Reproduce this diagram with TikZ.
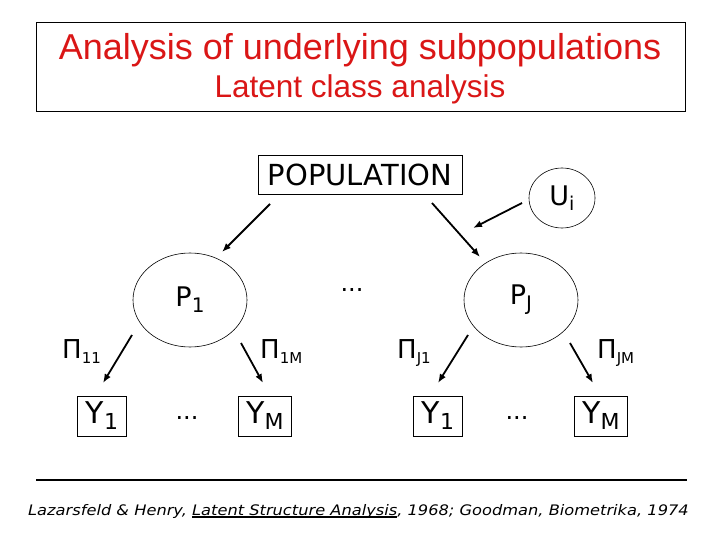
\documentclass[tikz,border=0pt]{standalone}
\usepackage{fontspec}
\setmainfont{DejaVu Sans}[ItalicFont={DejaVu Sans Oblique}]
\newfontfamily\arialfont{Liberation Sans}
\newfontfamily\citefont{DejaVu Sans Oblique}[FakeStretch=1.12]
\usepackage{tikz}
\usetikzlibrary{shapes.geometric}
\usetikzlibrary{positioning}
\usetikzlibrary{arrows.meta}

\definecolor{titlered}{RGB}{218,22,22}

% lowered text: shift, size, text
\newcommand{\dn}[3]{\raisebox{-#1pt}{\fontsize{#2}{#2}\selectfont #3}}
\newcommand{\uln}[1]{\setbox0\hbox{#1}\rlap{\rule[-3pt]{\wd0}{1.6pt}}\box0}

\tikzset{
  heading/.style={font=\arialfont\fontsize{36}{40}\selectfont, text=titlered, anchor=base, inner sep=0pt},
  subheading/.style={font=\arialfont\fontsize{31.5}{36}\selectfont, text=titlered, anchor=base, inner sep=0pt},
  classnode/.style={draw, ellipse, line width=0.6pt, minimum width=114pt, minimum height=94pt, font=\fontsize{27}{30}\selectfont},
  itembox/.style={draw, line width=0.8pt, minimum height=40pt, minimum width=48pt, inner xsep=8pt, font=\fontsize{30}{32}\selectfont},
  prob/.style={anchor=base west, inner sep=0pt, font=\fontsize{26}{28}\selectfont},
  gap/.style={font=\fontsize{24}{26}\selectfont, inner sep=0pt},
  link/.style={black, line width=1.8pt, -{Latex[length=9pt,width=7pt]}},
}

\begin{document}
\begin{tikzpicture}[x=1pt, y=-1pt]
      \useasboundingbox (0,0) rectangle (720,540);

      % title
      \node[draw, line width=0.8pt, minimum width=649pt, minimum height=89pt] (titlebox) at (360.5,66.5) {};
      \node[heading] (head) at (360,60) {Analysis of underlying subpopulations};
      \node[subheading] (subhead) at (360,98) {Latent class analysis};

      % population and classes
      \node[draw, line width=0.8pt, minimum width=204pt, minimum height=39pt, font=\fontsize{29}{32}\selectfont] (pop) at (360,174.5) {POPULATION};
      \node[draw, ellipse, line width=0.6pt, minimum width=66pt, minimum height=60pt, inner sep=0pt, font=\fontsize{27}{30}\selectfont] (ui) at (562,198) {U\dn{5}{19}{i}};

      \node[classnode] (p1) at (190,300) {P\dn{6}{20}{1}};
      \node[classnode] (pj) at (521,300) {P\dn{6}{20}{J}};
      \node[gap] (dotsmid) at (352,290) {...};

      \draw[link] ([shift={(-90,29.5)}]pop.center) -- ([shift={(32,-48)}]p1.center);
      \draw[link] ([shift={(72,28.5)}]pop.center) -- ([shift={(-41,-43)}]pj.center);
      \draw[link] ([shift={(-40,5)}]ui.center) -- ([shift={(-48,-72)}]pj.center);

      % items
      \node[itembox] (y1a) at (102,416) {Y\dn{6}{22}{1}};
      \node[gap] (dotsa) at (187,418) {...};
      \node[itembox] (yma) at (265,416) {Y\dn{6}{22}{M}};
      \node[itembox] (y1b) at (438,416) {Y\dn{6}{22}{1}};
      \node[gap] (dotsb) at (517,418) {...};
      \node[itembox] (ymb) at (601,416) {Y\dn{6}{22}{M}};

      \node[prob] (pi11) at (62,358) {Π\dn{5}{15}{11}};
      \node[prob] (pi1m) at (260,358) {Π\dn{5}{15}{1M}};
      \node[prob] (pij1) at (397,358) {Π\dn{5}{15}{J1}};
      \node[prob] (pijm) at (597,358) {Π\dn{5}{15}{JM}};

      \draw[link] ([shift={(-58,35)}]p1.center) -- ([shift={(1,-33)}]y1a.center);
      \draw[link] ([shift={(51,43)}]p1.center) -- ([shift={(-2,-33)}]yma.center);
      \draw[link] ([shift={(-53,35)}]pj.center) -- ([shift={(0,-33)}]y1b.center);
      \draw[link] ([shift={(49,43)}]pj.center) -- ([shift={(-8,-33)}]ymb.center);

      % reference
      \coordinate (ruleL) at (36,480);
      \coordinate (ruleR) at (687,480);
      \draw[line width=1.2pt] (ruleL) -- (ruleR);
      \node[anchor=base west, inner sep=0pt, font=\citefont\fontsize{14.5}{16}\selectfont] (cite) at (28,515)
        {Lazarsfeld \& Henry, \uln{Latent Structure Analysis}, 1968; Goodman, Biometrika, 1974};
\end{tikzpicture}
\end{document}
